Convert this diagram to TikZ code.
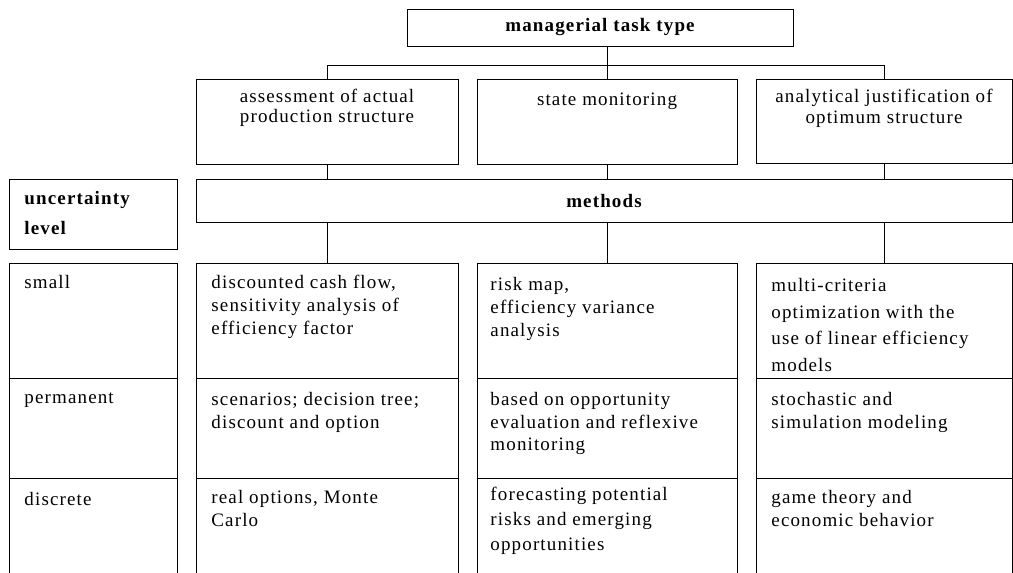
\documentclass[tikz,border=0pt]{standalone}
\usepackage{fontspec}
\setmainfont[LetterSpace=6]{Liberation Serif}
\begin{document}
\begin{tikzpicture}[x=1pt,y=-1pt,line width=0.9pt]
\tikzstyle{box}=[draw, rectangle, inner sep=0pt, outer sep=0pt]
\tikzstyle{txt}=[anchor=north west, align=left, inner sep=0pt, font=\fontsize{19}{23}\selectfont]
\tikzstyle{head}=[font=\fontsize{19}{23}\selectfont\bfseries]
\useasboundingbox (0,0) rectangle (1013,573);
\clip (0,0) rectangle (1013,573);

% task type
\node[box, head, minimum width=386, minimum height=37] (task) at (600,27.5) {managerial task type};
\node[box, minimum width=262, minimum height=85] (t1) at (327,121.5) {};
\node[box, minimum width=260, minimum height=85] (t2) at (607,121.5) {};
\node[box, minimum width=256, minimum height=84] (t3) at (884.5,121) {};
\node[txt, anchor=north, align=center, font=\fontsize{19}{20}\selectfont] (t1x) at (327,89) {assessment of actual\\production structure};
\node[txt, anchor=north, align=center] (t2x) at (607,92) {state monitoring};
\node[txt, anchor=north, align=center, font=\fontsize{19}{21}\selectfont] (t3x) at (884,89) {analytical justification of\\optimum structure};

\draw (t2.north |- task.south) -- (t2.north);
\draw (t1.north) -- ++(0,-14) -| (t3.north);

% methods
\node[box, head, minimum width=816, minimum height=43] (meth) at (604,200.5) {methods};
\node[box, minimum width=168, minimum height=70] (unc) at (93,214) {};
\node[txt, font=\fontsize{19}{30}\selectfont\bfseries] (uncx) at (24,191) {uncertainty\\level};

\path
(t1.south) edge (t1.south |- meth.north)
(t2.south) edge (t2.south |- meth.north)
(t3.south) edge (t3.south |- meth.north);

% rows
\node[box, minimum width=168, minimum height=115] (l1) at (93,320.5) {};
\node[box, minimum width=168, minimum height=100] (l2) at (93,428) {};
\node[box, minimum width=168, minimum height=122] (l3) at (93,539) {};
\node[box, minimum width=262, minimum height=115] (c11) at (327,320.5) {};
\node[box, minimum width=262, minimum height=100] (c12) at (327,428) {};
\node[box, minimum width=262, minimum height=122] (c13) at (327,539) {};
\node[box, minimum width=260, minimum height=115] (c21) at (607,320.5) {};
\node[box, minimum width=260, minimum height=100] (c22) at (607,428) {};
\node[box, minimum width=260, minimum height=122] (c23) at (607,539) {};
\node[box, minimum width=256, minimum height=115] (c31) at (884,320.5) {};
\node[box, minimum width=256, minimum height=100] (c32) at (884,428) {};
\node[box, minimum width=256, minimum height=122] (c33) at (884,539) {};

\path
(c11.north |- meth.south) edge (c11.north)
(c21.north |- meth.south) edge (c21.north)
(c31.north |- meth.south) edge (c31.north);

\node[txt] (l1x) at (24,275) {small};
\node[txt] (l2x) at (24,392) {permanent};
\node[txt] (l3x) at (24,492) {discrete};

\node[txt] (c11x) at (211,275) {discounted cash flow,\\sensitivity analysis of\\efficiency factor};
\node[txt] (c12x) at (211,392) {scenarios; decision tree;\\discount and option};
\node[txt] (c13x) at (211,490) {real options, Monte\\Carlo};
\node[txt] (c21x) at (490,277) {risk map,\\efficiency variance\\analysis};
\node[txt, font=\fontsize{19}{22.5}\selectfont] (c22x) at (490,392) {based on opportunity\\evaluation and reflexive\\monitoring};
\node[txt, font=\fontsize{19}{25}\selectfont] (c23x) at (490,487) {forecasting potential\\risks and emerging\\opportunities};
\node[txt, font=\fontsize{19}{26.5}\selectfont] (c31x) at (771,278) {multi-criteria\\optimization with the\\use of linear efficiency\\models};
\node[txt] (c32x) at (771,392) {stochastic and\\simulation modeling};
\node[txt] (c33x) at (771,490) {game theory and\\economic behavior};
\end{tikzpicture}
\end{document}
